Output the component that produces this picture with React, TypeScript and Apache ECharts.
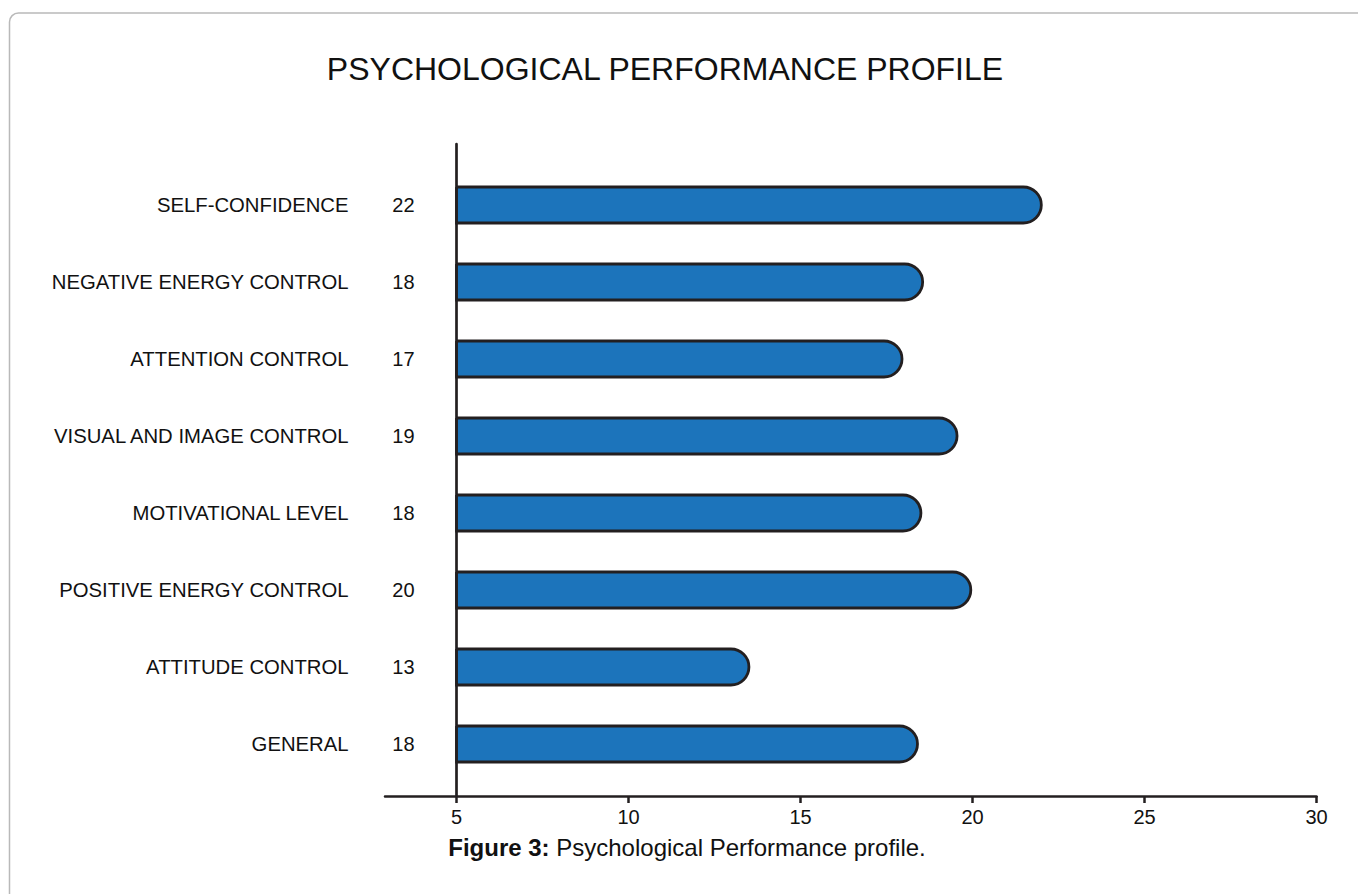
import React, { useEffect, useRef } from "react";
import * as echarts from "echarts";

const categories = [
  "SELF-CONFIDENCE",
  "NEGATIVE ENERGY CONTROL",
  "ATTENTION CONTROL",
  "VISUAL AND IMAGE CONTROL",
  "MOTIVATIONAL LEVEL",
  "POSITIVE ENERGY CONTROL",
  "ATTITUDE CONTROL",
  "GENERAL",
];
const scoreLabels = [22, 18, 17, 19, 18, 20, 13, 18];
const barEnds = [22.0, 18.55, 17.95, 19.55, 18.5, 19.95, 13.5, 18.4];
const baseValue = 5;
const xTicks = [5, 10, 15, 20, 25, 30];
const xMin = 2.92;
const xMax = 30;

const titleText = "PSYCHOLOGICAL PERFORMANCE PROFILE";
const captionBold = "Figure 3:";
const captionText = "Psychological Performance profile.";

const W = 1358;
const H = 894;
const LEFT = 385;
const RIGHT = 41.5;
const FONT = "'Liberation Sans', Arial, sans-serif";
const INK = "#231f20";
const BAR_H = 36;

export default function App() {
  const ref = useRef<HTMLDivElement>(null);
  useEffect(() => {
    if (!ref.current) return;
    const chart = echarts.init(ref.current, undefined, { renderer: "svg" });
    const plotW = W - LEFT - RIGHT;
    const yLineOffset = -((baseValue - xMin) / (xMax - xMin)) * plotW;
    chart.setOption({
      animation: false,
      backgroundColor: "#ffffff",
      textStyle: { fontFamily: FONT },
      title: [
        {
          text: titleText,
          left: 660,
          textAlign: "center",
          top: 48,
          textStyle: { fontFamily: FONT, fontSize: 32, fontWeight: "normal", color: "#111" },
        },
        {
          text: "{b|" + captionBold + "} " + captionText,
          left: 682,
          textAlign: "center",
          top: 830,
          textStyle: {
            fontFamily: FONT,
            fontSize: 24,
            fontWeight: "normal",
            color: "#111",
            rich: {
              b: { fontFamily: FONT, fontSize: 24, fontWeight: "bold", color: "#111" },
            },
          },
        },
      ],
      graphic: [
        {
          type: "rect",
          shape: { x: 9.5, y: 13, width: 1500, height: 1000, r: 9 },
          style: { fill: "none", stroke: "#b9b9b9", lineWidth: 1.5 },
          silent: true,
          z: -1,
        },
      ],
      grid: [
        { left: LEFT, right: RIGHT, top: 166.5, bottom: H - 782.5, containLabel: false },
        { left: LEFT, right: RIGHT, top: 144, bottom: H - 796, containLabel: false },
      ],
      xAxis: [
        {
          gridIndex: 0,
          type: "value",
          min: xMin,
          max: xMax,
          show: false,
        },
        {
          gridIndex: 1,
          type: "value",
          min: xMin,
          max: xMax,
          axisLine: { show: true, onZero: false, lineStyle: { color: INK, width: 2.5 } },
          axisTick: {
            show: true,
            customValues: xTicks,
            length: 7,
            lineStyle: { color: INK, width: 2.5 },
          },
          axisLabel: {
            show: true,
            customValues: xTicks,
            fontFamily: FONT,
            fontSize: 20,
            color: "#111",
            margin: 11,
          },
          splitLine: { show: false },
        },
      ],
      yAxis: [
        {
          gridIndex: 0,
          type: "category",
          position: "left",
          offset: yLineOffset,
          data: categories,
          inverse: true,
          axisLine: { show: false },
          axisTick: { show: false },
          axisLabel: {
            margin: 42,
            fontFamily: FONT,
            fontSize: 20,
            color: "#111",
            lineHeight: 20,
            padding: [6, 0, 0, 0],
            formatter: (_v: string, i: number) => String(scoreLabels[i]),
          },
        },
        {
          gridIndex: 0,
          type: "category",
          position: "left",
          offset: yLineOffset,
          data: categories,
          inverse: true,
          axisLine: { show: false },
          axisTick: { show: false },
          axisLabel: {
            margin: 108,
            fontFamily: FONT,
            fontSize: 20.3,
            color: "#111",
            lineHeight: 20,
            padding: [8, 0, 0, 0],
          },
        },
        {
          gridIndex: 1,
          type: "value",
          position: "left",
          min: 0,
          max: 1,
          offset: yLineOffset,
          axisLine: { show: true, onZero: false, lineStyle: { color: INK, width: 2.7 } },
          axisTick: { show: false },
          axisLabel: { show: false },
          splitLine: { show: false },
        },
      ],
      series: [
        {
          type: "custom",
          xAxisIndex: 0,
          yAxisIndex: 0,
          data: barEnds.map((v, i) => [v, i]),
          encode: { x: 0, y: 1 },
          renderItem: (params: any, api: any) => {
            const idx = api.value(1);
            const start = api.coord([baseValue, idx]);
            const end = api.coord([api.value(0), idx]);
            const h = BAR_H;
            return {
              type: "rect",
              shape: {
                x: start[0],
                y: start[1] - h / 2,
                width: end[0] - start[0],
                height: h,
                r: [0, h / 2, h / 2, 0],
              },
              style: {
                fill: "#1c74bb",
                stroke: INK,
                lineWidth: 2.8,
              },
            };
          },
          z: 3,
        },
      ],
    });
    return () => chart.dispose();
  }, []);
  return (
    <div
      ref={ref}
      style={{ position: "absolute", left: 0, top: 0, width: W, height: H, background: "#fff" }}
    />
  );
}
